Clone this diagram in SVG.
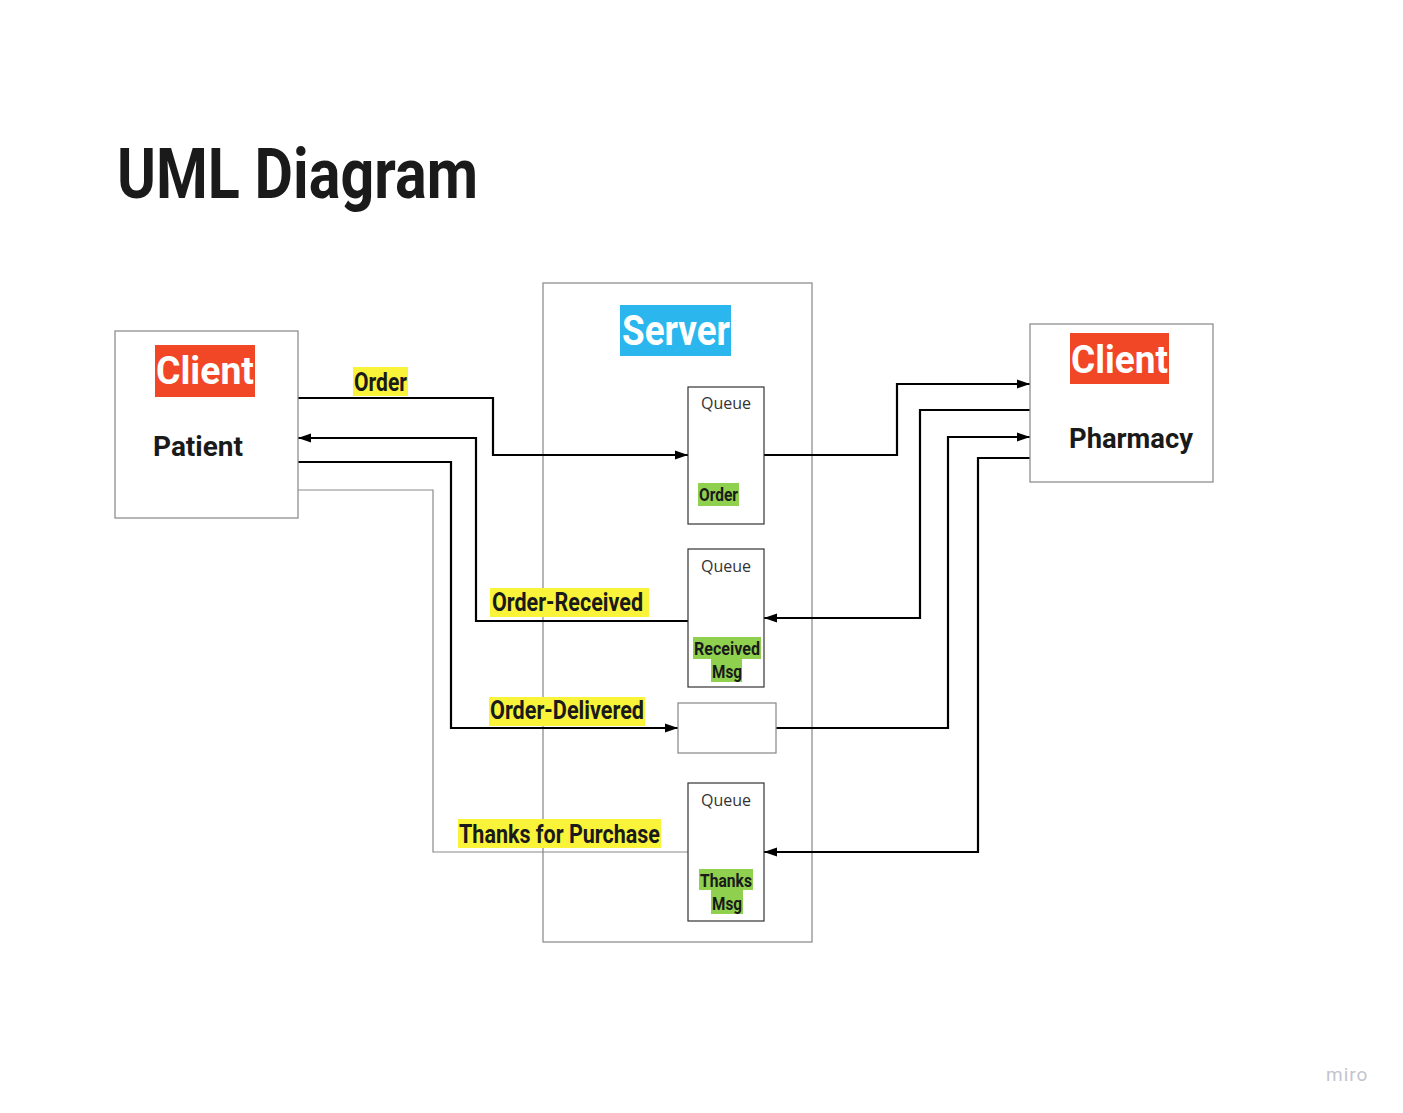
<svg xmlns="http://www.w3.org/2000/svg" width="1403" height="1113" viewBox="0 0 1403 1113">
<style>
.box{fill:#fff;stroke:#8f8f8f;stroke-width:1.3}
.q{fill:#fff;stroke:#333;stroke-width:1.2}
.cond{font-family:Roboto,"Liberation Sans",sans-serif;font-weight:bold}
.dark{fill:#1a1a1a}
.white{fill:#fff}
.queue{font-family:"Open Sans","Liberation Sans",sans-serif;font-size:16px;fill:#333;text-anchor:middle}
.conn{fill:none;stroke:#000;stroke-width:2.2}
.thin{fill:none;stroke:#8a8a8a;stroke-width:1.2}
</style>
<defs>
<marker id="arr" markerUnits="userSpaceOnUse" markerWidth="14" markerHeight="10" refX="13" refY="5" orient="auto">
<path d="M0,0.5 L13,5 L0,9.5 z" fill="#000"/>
</marker>
</defs>
<rect width="1403" height="1113" fill="#fff"/>
<text class="cond dark" x="117" y="198" font-size="70" textLength="361" lengthAdjust="spacingAndGlyphs">UML Diagram</text>

<g id="server">
<rect class="box" x="543" y="283" width="269" height="659"/>
<rect x="620" y="305" width="111" height="51" fill="#2bb6ee"/>
<text class="cond white" x="622" y="345" font-size="42" textLength="108" lengthAdjust="spacingAndGlyphs">Server</text>
</g>

<g id="connectors">
<path class="thin" d="M298,490 H433 V852 H688"/>
<path class="conn" d="M298,398 H493 V455 H688" marker-end="url(#arr)"/>
<path class="conn" d="M764,455 H897 V384 H1030" marker-end="url(#arr)"/>
<path class="conn" d="M1030,410 H920 V618 H764" marker-end="url(#arr)"/>
<path class="conn" d="M688,621 H476 V438 H298" marker-end="url(#arr)"/>
<path class="conn" d="M298,462 H451 V728 H678" marker-end="url(#arr)"/>
<path class="conn" d="M776,728 H948 V437 H1030" marker-end="url(#arr)"/>
<path class="conn" d="M1030,458 H978 V852 H764" marker-end="url(#arr)"/>
<rect x="353" y="367" width="55" height="29" fill="#f9f43a"/>
<text class="cond dark" x="354" y="391" font-size="25" textLength="53" lengthAdjust="spacingAndGlyphs">Order</text>
<rect x="490" y="588" width="159" height="29" fill="#f9f43a"/>
<text class="cond dark" x="492" y="611" font-size="25" textLength="151" lengthAdjust="spacingAndGlyphs">Order-Received</text>
<rect x="489" y="697" width="156" height="29" fill="#f9f43a"/>
<text class="cond dark" x="490" y="719" font-size="25" textLength="154" lengthAdjust="spacingAndGlyphs">Order-Delivered</text>
<rect x="458" y="819" width="203" height="29" fill="#f9f43a"/>
<text class="cond dark" x="459" y="843" font-size="25" textLength="201" lengthAdjust="spacingAndGlyphs">Thanks for Purchase</text>
</g>

<g id="patient">
<rect class="box" x="115" y="331" width="183" height="187"/>
<rect x="155" y="345" width="100" height="52" fill="#f24726"/>
<text class="cond white" x="156" y="384" font-size="38" textLength="98" lengthAdjust="spacingAndGlyphs">Client</text>
<text class="cond dark" x="153" y="456" font-size="28" textLength="90" lengthAdjust="spacingAndGlyphs">Patient</text>
</g>

<g id="pharmacy">
<rect class="box" x="1030" y="324" width="183" height="158"/>
<rect x="1070" y="333" width="99" height="51" fill="#f24726"/>
<text class="cond white" x="1071" y="373" font-size="38" textLength="97" lengthAdjust="spacingAndGlyphs">Client</text>
<text class="cond dark" x="1069" y="448" font-size="28" textLength="124" lengthAdjust="spacingAndGlyphs">Pharmacy</text>
</g>

<g id="queue-order">
<rect class="q" x="688" y="387" width="76" height="137"/>
<text class="queue" x="726" y="409">Queue</text>
<rect x="698" y="483" width="41" height="23" fill="#8fd14f"/>
<text class="cond dark" x="699" y="501" font-size="18" textLength="39" lengthAdjust="spacingAndGlyphs">Order</text>
</g>

<g id="queue-received">
<rect class="q" x="688" y="549" width="76" height="138"/>
<text class="queue" x="726" y="572">Queue</text>
<rect x="693" y="637" width="68" height="22" fill="#8fd14f"/>
<rect x="711" y="659" width="31" height="23" fill="#8fd14f"/>
<text class="cond dark" x="694" y="655" font-size="18" textLength="66" lengthAdjust="spacingAndGlyphs">Received</text>
<text class="cond dark" x="712" y="678" font-size="18" textLength="30" lengthAdjust="spacingAndGlyphs">Msg</text>
</g>

<g id="delivered-box">
<rect class="box" x="678" y="703" width="98" height="50"/>
</g>

<g id="queue-thanks">
<rect class="q" x="688" y="783" width="76" height="138"/>
<text class="queue" x="726" y="806">Queue</text>
<rect x="699" y="869" width="54" height="21" fill="#8fd14f"/>
<rect x="711" y="890" width="32" height="24" fill="#8fd14f"/>
<text class="cond dark" x="700" y="887" font-size="18" textLength="52" lengthAdjust="spacingAndGlyphs">Thanks</text>
<text class="cond dark" x="712" y="910" font-size="18" textLength="30" lengthAdjust="spacingAndGlyphs">Msg</text>
</g>

<text x="1326" y="1081" font-family="Roboto,'Liberation Sans',sans-serif" font-size="19" fill="#c4c4cc" letter-spacing="1">miro</text>
</svg>
